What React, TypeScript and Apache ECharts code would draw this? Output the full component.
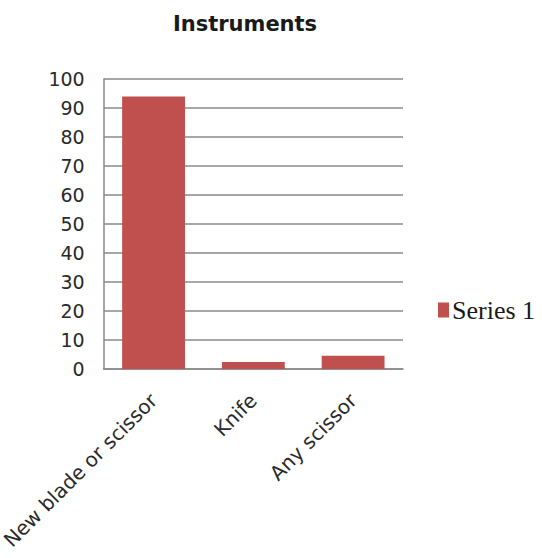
import React, { useEffect, useRef } from "react";
import * as echarts from "echarts";

const categories = ["New blade or scissor", "Knife", "Any scissor"];
const seriesName = "Series 1";
const values = [94, 2.4, 4.6];
const yMin = 0;
const yMax = 100;
const yStep = 10;

export default function App() {
  const ref = useRef<HTMLDivElement>(null);

  useEffect(() => {
    document.body.style.margin = "0";
    if (!ref.current) return;
    const chart = echarts.init(ref.current, undefined, { renderer: "svg" });
    chart.setOption({
      animation: false,
      backgroundColor: "#ffffff",
      title: {
        text: "Instruments",
        left: 240,
        textAlign: "center",
        top: 8,
        textStyle: {
          fontFamily: "DejaVu Sans",
          fontWeight: "bold",
          fontSize: 21,
          color: "#1a1a1a",
        },
      },
      legend: {
        data: [seriesName],
        left: 433,
        top: 292,
        itemWidth: 11,
        itemHeight: 15,
        itemGap: 4,
        icon: "rect",
        textStyle: {
          fontFamily: "Liberation Serif",
          fontSize: 26,
          color: "#1a1a1a",
          padding: [0, 0, 0, -2],
        },
      },
      grid: {
        left: 92,
        right: 139,
        top: 79,
        bottom: 189,
        containLabel: false,
      },
      xAxis: {
        type: "category",
        data: categories,
        axisLine: { show: true, lineStyle: { color: "#8a8a8a", width: 1.5 } },
        axisTick: { show: false },
        axisLabel: {
          rotate: 45,
          margin: 28,
          interval: 0,
          fontFamily: "DejaVu Sans",
          fontSize: 20,
          color: "#2a2a2a",
        },
      },
      yAxis: {
        type: "value",
        min: yMin,
        max: yMax,
        interval: yStep,
        axisLine: { show: true, lineStyle: { color: "#8a8a8a", width: 1.5 } },
        axisTick: { show: false },
        splitLine: { show: true, lineStyle: { color: "#8a8a8a", width: 1.5 } },
        axisLabel: {
          margin: 19,
          fontFamily: "DejaVu Sans",
          fontSize: 19,
          color: "#2a2a2a",
        },
      },
      series: [
        {
          name: seriesName,
          type: "bar",
          data: values,
          barWidth: "63%",
          itemStyle: { color: "#C0504D" },
        },
      ],
    });
    return () => chart.dispose();
  }, []);

  return <div ref={ref} style={{ width: 542, height: 558 }} />;
}
